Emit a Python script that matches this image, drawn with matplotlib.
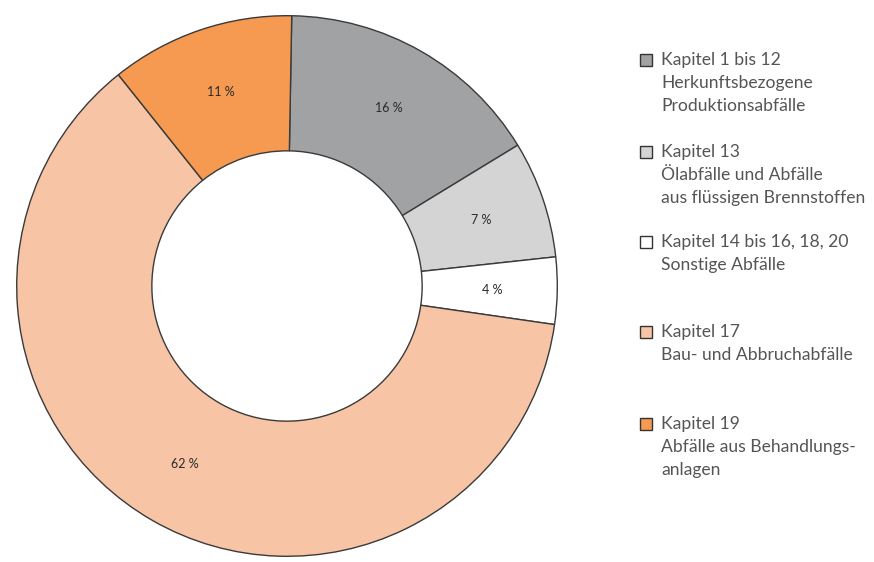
import matplotlib.pyplot as plt
from matplotlib.patches import Rectangle

# Anteile der Abfallkapitel (Prozent)
kapitel = ['Kapitel 1 bis 12', 'Kapitel 13', 'Kapitel 14 bis 16, 18, 20', 'Kapitel 17', 'Kapitel 19']
anteile = [16, 7, 4, 62, 11]
beschreibung = [
    ['Herkunftsbezogene', 'Produktionsabfälle'],
    ['Ölabfälle und Abfälle', 'aus flüssigen Brennstoffen'],
    ['Sonstige Abfälle'],
    ['Bau- und Abbruchabfälle'],
    ['Abfälle aus Behandlungs-', 'anlagen'],
]
farben = ['#a0a2a3', '#d4d4d4', '#ffffff', '#f7c5a5', '#f59a50']

plt.rcParams['font.family'] = ['Lato', 'DejaVu Sans']

W, H = 874, 562
fig = plt.figure(figsize=(W / 100, H / 100), dpi=100)

# Ring links
cx, cy, r = 287, 286, 273
ax = fig.add_axes([(cx - r) / W, (H - cy - r) / H, 2 * r / W, 2 * r / H])
wedges, texte = ax.pie(
    anteile, colors=farben, startangle=89, counterclock=False,
    labels=[f'{a} %' for a in anteile], labeldistance=0.76,
    wedgeprops=dict(width=0.5, edgecolor='#3a3a3a', linewidth=1.0),
    textprops=dict(fontsize=9, color='#2a2a2a', ha='center', va='center'),
)
ax.set_xlim(-1.01, 1.01)
ax.set_ylim(-1.01, 1.01)
ax.set_aspect('equal')
ax.axis('off')

# Legende rechts
gruppen_y = [60, 152, 242, 332, 424]
zeile = 23
for name, zeilen, farbe, y0 in zip(kapitel, beschreibung, farben, gruppen_y):
    fig.patches.append(Rectangle((640 / W, (H - y0 - 6) / H), 12 / W, 12 / H,
                                 transform=fig.transFigure, facecolor=farbe,
                                 edgecolor='#333333', linewidth=1.0))
    fig.text(661 / W, (H - y0) / H, name, fontsize=12.6, color='#555555', va='center')
    for i, t in enumerate(zeilen):
        fig.text(661 / W, (H - y0 - zeile * (i + 1)) / H, t, fontsize=12.6,
                 color='#555555', va='center')

plt.savefig('out.png', dpi=100)
